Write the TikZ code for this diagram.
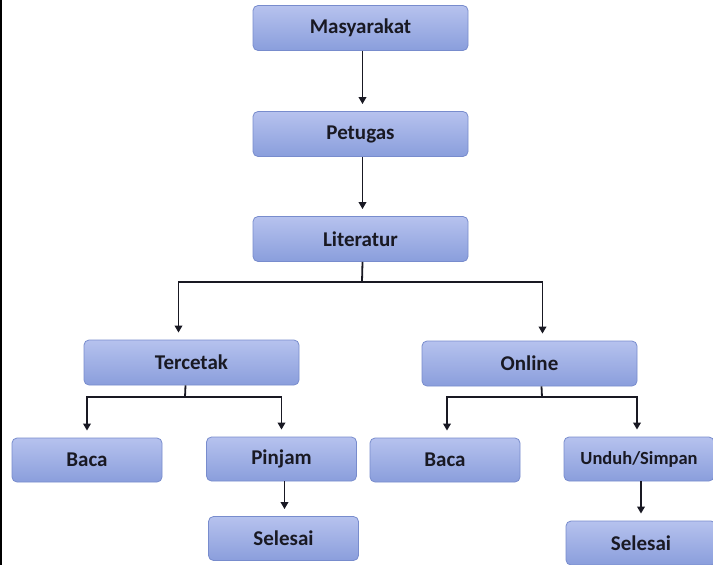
\documentclass[tikz,border=0pt]{standalone}
\usepackage{fontspec}
\setmainfont{Carlito}
\usetikzlibrary{arrows.meta}
\definecolor{boxtop}{RGB}{182,194,238}
\definecolor{boxbot}{RGB}{138,158,220}
\definecolor{boxline}{RGB}{120,140,205}
\definecolor{ink}{RGB}{25,25,35}
\tikzset{
  box/.style={draw=boxline, line width=0.8pt, rounded corners=5pt, top color=boxtop, bottom color=boxbot,
    font=\bfseries\fontsize{21}{24}\selectfont, text=ink, inner sep=0pt},
  bigbox/.style={box, minimum width=215pt, minimum height=45pt},
  smallbox/.style={box, minimum width=150pt, minimum height=44pt},
  conn/.style={line width=1.8pt, ink},
  arr/.style={conn, -{Triangle[length=7pt,width=7.5pt]}, shorten >=7pt}
}
\begin{document}
\begin{tikzpicture}[x=1pt,y=-1pt]
\useasboundingbox (0,0) rectangle (713,565);
\fill[white] (0,0) rectangle (713,565);
\draw[line width=1.5pt] (0.75,0) -- (0.75,565);
\node[bigbox] (mas) at (360.5,28) {Masyarakat};
\node[bigbox] (pet) at (360.5,134) {Petugas};
\node[bigbox] (lit) at (360.5,239) {Literatur};
\node[bigbox] (ter) at (191.5,362.5) {Tercetak};
\node[bigbox] (onl) at (529.5,363.5) {Online};
\node[smallbox] (baca1) at (87,460) {Baca};
\node[smallbox] (pin) at (281.5,459) {Pinjam};
\node[smallbox] (sel1) at (283.5,538.5) {Selesai};
\node[smallbox] (baca2) at (445,460) {Baca};
\node[smallbox, font=\bfseries\fontsize{18.5}{21}\selectfont] (und) at (639,459) {Unduh/Simpan};
\node[smallbox] (sel2) at (641,543) {Selesai};
% connectors
\draw[arr] ([xshift=2pt]mas.south) -- ([xshift=2pt]pet.north);
\draw[arr] ([xshift=2pt]pet.south) -- ([xshift=2pt]lit.north);
\coordinate (j1) at (362,282);
\draw[conn] ([xshift=2pt]lit.south) -- (j1);
\draw[arr] (j1) -| ([xshift=-13pt]ter.north);
\draw[arr] (j1) -| ([xshift=13pt]onl.north);
\coordinate (j2) at (185,397);
\draw[conn] ([xshift=-6pt]ter.south) -- (j2);
\draw[arr] (j2) -| (baca1.north);
\draw[arr] (j2) -| (pin.north);
\coordinate (j3) at (542,397);
\draw[conn] ([xshift=12pt]onl.south) -- (j3);
\draw[arr] (j3) -| ([xshift=2pt]baca2.north);
\draw[arr] (j3) -| ([xshift=-2pt]und.north);
\draw[arr] ([xshift=3pt]pin.south) -- ([xshift=1pt]sel1.north);
\draw[arr] ([xshift=2pt]und.south) -- (sel2.north);
\end{tikzpicture}
\end{document}
